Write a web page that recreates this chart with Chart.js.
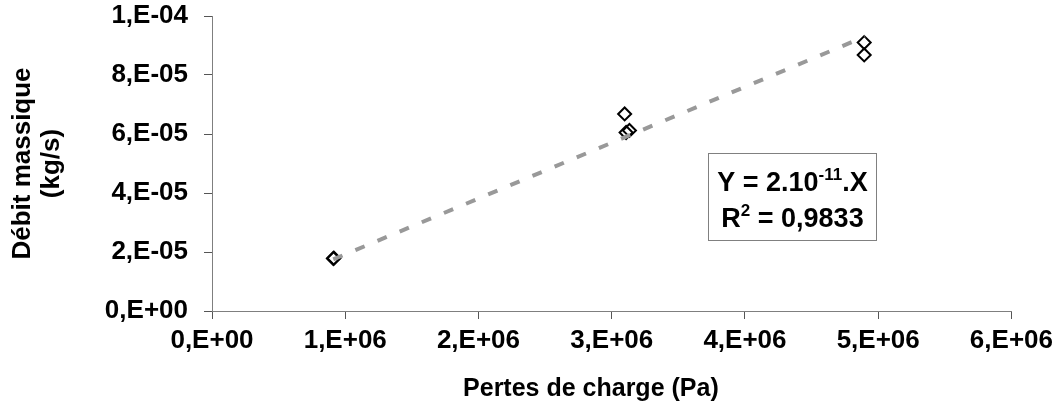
<!DOCTYPE html>
<html>
<head>
<meta charset="utf-8">
<script src="https://cdn.jsdelivr.net/npm/chart.js@4.4.0/dist/chart.umd.min.js"></script>
<style>
html,body{margin:0;padding:0;background:#fff}
#wrap{width:1059px;height:416px}
</style>
</head>
<body>
<div id="wrap"><canvas id="graphe" width="1059" height="416"></canvas></div>
<script>
const pertesCharge  = [0.911e6, 0.915e6, 3.097e6, 3.108e6, 3.133e6, 4.895e6, 4.895e6];
const debitMassique = [1.78e-5, 1.79e-5, 6.68e-5, 6.05e-5, 6.12e-5, 9.10e-5, 8.68e-5];

// droite de tendance (extremites)
const tendanceX = [0.91e6, 4.9e6];
const tendanceY = [1.75e-5, 9.3e-5];

// graduations
const xTicks  = [0, 1e6, 2e6, 3e6, 4e6, 5e6, 6e6];
const xLabels = ['0,E+00','1,E+06','2,E+06','3,E+06','4,E+06','5,E+06','6,E+06'];
const yTicks  = [0, 2e-5, 4e-5, 6e-5, 8e-5, 1e-4];
const yLabels = ['0,E+00','2,E-05','4,E-05','6,E-05','8,E-05','1,E-04'];

// encadre equation
const equation = {x: 3.725e6, y: 5.36e-5, w: 168, h: 87};

const police = "'Liberation Sans', Arial, sans-serif";

const cadreEquation = {
  id: 'cadreEquation',
  afterDatasetsDraw(chart){
    const ctx = chart.ctx, sx = chart.scales.x, sy = chart.scales.y;
    const x0 = Math.round(sx.getPixelForValue(equation.x)) + 0.5;
    const y0 = Math.round(sy.getPixelForValue(equation.y)) + 0.5;
    ctx.save();
    ctx.fillStyle = '#fff';
    ctx.fillRect(x0, y0, equation.w, equation.h);
    ctx.strokeStyle = '#808080'; ctx.lineWidth = 1;
    ctx.strokeRect(x0, y0, equation.w, equation.h);
    ctx.fillStyle = '#000'; ctx.textBaseline = 'alphabetic'; ctx.textAlign = 'left';
    const cx = x0 + equation.w / 2;
    const ligne = (parts, base) => {
      let total = 0;
      parts.forEach(p => { ctx.font = 'bold ' + p.size + 'px ' + police; p.w = ctx.measureText(p.t).width; total += p.w; });
      let x = cx - total / 2;
      parts.forEach(p => { ctx.font = 'bold ' + p.size + 'px ' + police; ctx.fillText(p.t, x, base - (p.up || 0)); x += p.w; });
    };
    ligne([{t:'Y = 2.10', size:27}, {t:'-11', size:17, up:11}, {t:'.X', size:27}], y0 + 37);
    ligne([{t:'R', size:27}, {t:'2', size:17, up:11}, {t:' = 0,9833', size:27}], y0 + 73);
    ctx.restore();
  }
};

new Chart(document.getElementById('graphe'), {
  type: 'scatter',
  data: {
    datasets: [
      {
        label: 'Tendance',
        type: 'line',
        data: tendanceX.map((x, i) => ({x: x, y: tendanceY[i]})),
        borderColor: '#999999',
        borderWidth: 4,
        borderDash: [10, 14],
        pointRadius: 0,
        fill: false
      },
      {
        label: 'Mesures',
        data: pertesCharge.map((x, i) => ({x: x, y: debitMassique[i]})),
        pointStyle: 'rectRot',
        pointRadius: 6.5,
        pointBorderWidth: 2,
        pointBorderColor: '#000',
        pointBackgroundColor: 'rgba(0,0,0,0)',
        showLine: false
      }
    ]
  },
  options: {
    responsive: false,
    animation: false,
    devicePixelRatio: 1,
    layout: {padding: {top: 16, right: 47, left: 0, bottom: 0}},
    plugins: {legend: {display: false}, tooltip: {enabled: false}},
    scales: {
      x: {
        type: 'linear', min: 0, max: 6e6,
        afterFit: s => { s.height = 105; },
        afterBuildTicks: s => { s.ticks = xTicks.map(v => ({value: v})); },
        ticks: {
          autoSkip: false, maxRotation: 0, padding: 6, color: '#000',
          font: {family: police, size: 26, weight: 'bold'},
          callback: (v, i) => xLabels[i]
        },
        grid: {drawOnChartArea: false, drawTicks: true, tickLength: 8, color: '#555', lineWidth: 1},
        border: {display: true, color: '#7f7f7f', width: 1},
        title: {
          display: true, text: 'Pertes de charge (Pa)      ', color: '#000',
          font: {family: police, size: 25, weight: 'bold', lineHeight: 1.15},
          padding: {top: 0, bottom: 13}
        }
      },
      y: {
        type: 'linear', min: 0, max: 1e-4,
        afterFit: s => { s.width = 212; s.paddingTop = 0; s.paddingBottom = 0; },
        afterBuildTicks: s => { s.ticks = yTicks.map(v => ({value: v})); },
        ticks: {
          autoSkip: false, padding: 16, color: '#000',
          font: {family: police, size: 26, weight: 'bold'},
          callback: (v, i) => yLabels[i]
        },
        grid: {drawOnChartArea: false, drawTicks: true, tickLength: 8, color: '#555', lineWidth: 1},
        border: {display: true, color: '#7f7f7f', width: 1},
        title: {
          display: true, text: ['Débit massique', '(kg/s)'], color: '#000',
          font: {family: police, size: 26, weight: 'bold', lineHeight: 1.1},
          padding: {top: 9, bottom: 0}
        }
      }
    }
  },
  plugins: [cadreEquation]
});
</script>
</body>
</html>
